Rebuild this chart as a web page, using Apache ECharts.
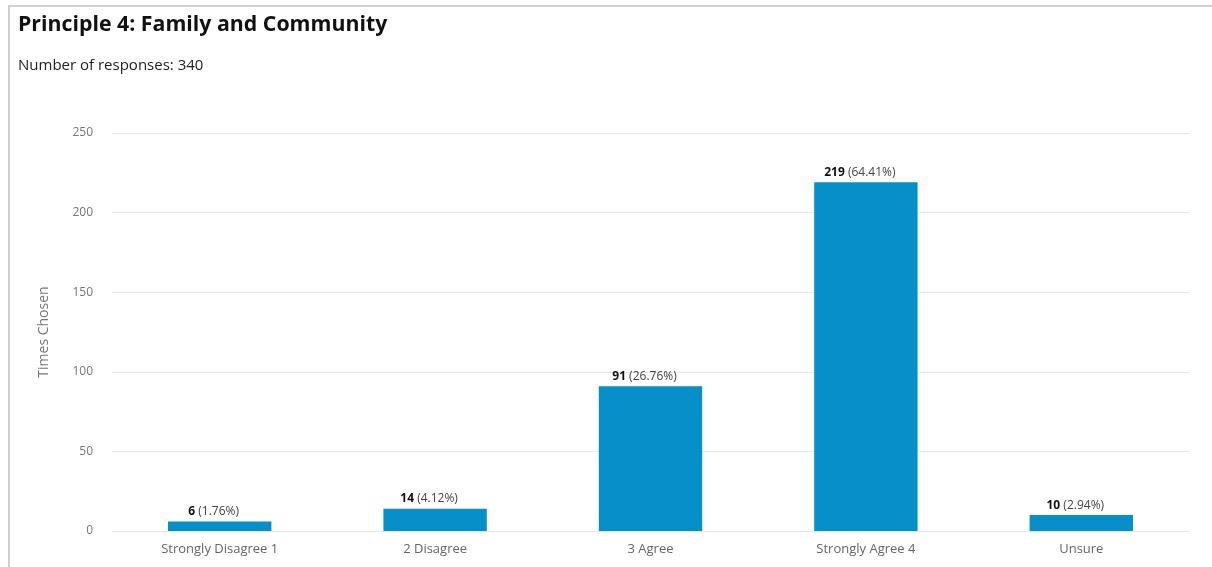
<!DOCTYPE html>
<html><head><meta charset="utf-8">
<script src="https://cdn.jsdelivr.net/npm/echarts@6/dist/echarts.min.js"></script>
<style>
html,body{margin:0;padding:0;background:#fff;}
#frame{position:absolute;left:8px;top:5px;width:1204px;height:562px;border-top:2px solid #cfcfcf;border-left:2px solid #cfcfcf;box-sizing:border-box;}
#c{position:absolute;left:0;top:0;width:1212px;height:567px;}
</style></head>
<body>
<div id="frame"></div>
<div id="c"></div>
<script>
const categories = ['Strongly Disagree 1', '2 Disagree', '3 Agree', 'Strongly Agree 4', 'Unsure'];
const counts = [6, 14, 91, 219, 10];
const percents = ['1.76%', '4.12%', '26.76%', '64.41%', '2.94%'];
const yTicks = [0, 50, 100, 150, 200, 250];
const titleText = 'Principle 4: Family and Community';
const subtitleText = 'Number of responses: 340';

const chart = echarts.init(document.getElementById('c'), null, {renderer: 'canvas'});
chart.setOption({
  backgroundColor: 'transparent',
  animation: false,
  textStyle: {fontFamily: 'Open Sans'},
  title: [
    {text: titleText, left: 13, top: 9, textStyle: {fontFamily: 'Open Sans', fontWeight: 'bold', fontSize: 21.3, color: '#111'}},
    {text: subtitleText, left: 13, top: 53, textStyle: {fontFamily: 'Open Sans', fontWeight: 'normal', fontSize: 15, color: '#222'}}
  ],
  grid: {left: 112, right: 23, top: 133, bottom: 36, containLabel: false},
  xAxis: {
    type: 'category',
    data: categories,
    axisLine: {lineStyle: {color: '#e6e6e6', width: 1}},
    axisTick: {show: false},
    axisLabel: {color: '#666', fontSize: 13, margin: 12, fontFamily: 'Open Sans'}
  },
  yAxis: {
    type: 'value',
    min: yTicks[0], max: yTicks[yTicks.length - 1], interval: 50,
    name: 'Times Chosen',
    nameLocation: 'middle',
    nameGap: 61,
    nameTextStyle: {color: '#777', fontSize: 14, fontFamily: 'Open Sans'},
    axisLine: {show: false},
    axisTick: {show: false},
    axisLabel: {color: '#777', fontSize: 12, margin: 19, fontFamily: 'Open Sans'},
    splitLine: {lineStyle: {color: '#e6e6e6', width: 1}}
  },
  series: [{
    type: 'bar',
    data: counts,
    barWidth: '48%',
    itemStyle: {color: '#078fc9'},
    label: {
      show: true,
      position: 'top',
      distance: 4,
      offset: [-6, 0],
      formatter: p => '{b|' + p.value + '} {n|(' + percents[p.dataIndex] + ')}',
      rich: {
        b: {fontWeight: 'bold', fontSize: 12, color: '#111', fontFamily: 'Open Sans'},
        n: {fontSize: 12, color: '#444', fontFamily: 'Open Sans'}
      }
    }
  }]
});
</script>
</body></html>
